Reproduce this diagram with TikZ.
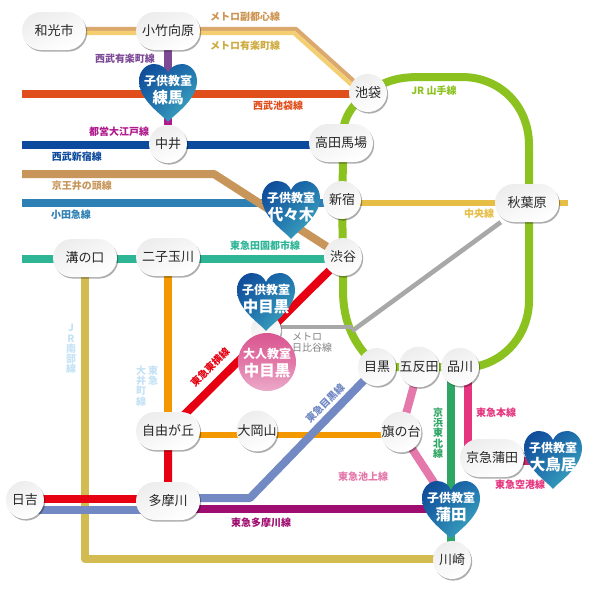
\documentclass[tikz,border=0pt]{standalone}
\usepackage{fontspec}
\setmainfont{Noto Sans CJK JP}
\usetikzlibrary{shadows,backgrounds,shadings}
\definecolor{cTan}{HTML}{DBA86E}\definecolor{cYel}{HTML}{F3CF72}
\definecolor{cPurp}{HTML}{7D4A96}\definecolor{cOrg}{HTML}{E04E1B}
\definecolor{cMag}{HTML}{B01A8C}\definecolor{cBlue}{HTML}{0B4A9C}
\definecolor{cKeio}{HTML}{C8965A}\definecolor{cOda}{HTML}{2E80B4}
\definecolor{cChuo}{HTML}{E6BE46}\definecolor{cDen}{HTML}{2DB596}
\definecolor{cNan}{HTML}{D2BC52}\definecolor{cOi}{HTML}{F39800}
\definecolor{cRed}{HTML}{E60012}\definecolor{cMeg}{HTML}{7289C4}
\definecolor{cTam}{HTML}{A00D70}\definecolor{cJY}{HTML}{8CC21F}
\definecolor{cHib}{HTML}{A8A8A8}\definecolor{cIke}{HTML}{E478AB}
\definecolor{cKT}{HTML}{2EA664}\definecolor{cKK}{HTML}{E5357F}
\definecolor{cSky}{HTML}{C5E3F5}
\definecolor{cPink}{HTML}{D9558F}\definecolor{cPinkM}{HTML}{E278A8}\definecolor{cPinkL}{HTML}{EBAACA}
\definecolor{hA}{HTML}{0D4596}\definecolor{hM}{HTML}{1F72AE}\definecolor{hC}{HTML}{48BAC6}
\newcommand{\heartbox}[4]{% x, top, small name, big name
  \begin{scope}[shift={(#1,#2)}]
  \shade[upper left=hA,upper right=hM,lower left=hM,lower right=hC]
   (0,58) .. controls (-4,52) and (-29,37) .. (-29,17)
   .. controls (-29,6) and (-21,0) .. (-14,0)
   .. controls (-7,0) and (-2,4) .. (0,9)
   .. controls (2,4) and (7,0) .. (14,0)
   .. controls (21,0) and (29,6) .. (29,17)
   .. controls (29,37) and (4,52) .. (0,58) -- cycle;
  \node[htext,font=\fontsize{12}{12}\bfseries\selectfont] (#3a) at (0,17) {子供教室};
  \node[htext,font=\fontsize{15.5}{15.5}\bfseries\selectfont] (#3b) at (0,34) {#4};
  \end{scope}}
\tikzset{
  st/.style={draw=none,left color=gray!14,right color=white,shading angle=25,
    font=\fontsize{13}{13}\selectfont,text=black!85,inner sep=0pt,
    drop shadow={shadow xshift=1.2pt,shadow yshift=-1.6pt,fill=black,opacity=.32}},
  stw/.style={st,rounded corners=19pt,minimum width=64pt,minimum height=38pt},
  stc/.style={st,circle,minimum size=38pt},
  lbl/.style={inner sep=0pt,font=\fontsize{10}{10}\bfseries\selectfont},
  vlbl/.style={lbl,align=center,font=\fontsize{10}{10.2}\bfseries\selectfont},
  htext/.style={inner sep=0pt,text=white},
  rail/.style={line width=8pt,line join=round},
  thin rail/.style={line width=4.2pt,line join=round},
}
\begin{document}
\begin{tikzpicture}[x=1pt,y=-1pt]
\useasboundingbox (0,0) rectangle (590,590);
% stations
\node[stw] (wako) at (54,31) {和光市};
\node[stw] (kotake) at (168,31) {小竹向原};
\node[stc] (ikebukuro) at (368,93) {池袋};
\node[stw] (takada) at (341,143) {高田馬場};
\node[stc] (nakai) at (168,144) {中井};
\node[stc] (shinjuku) at (342,200) {新宿};
\node[stw] (akiba) at (527,203) {秋葉原};
\node[stc] (shibuya) at (343,257) {渋谷};
\node[stw] (mizonokuchi) at (85,258) {溝の口};
\node[stw] (futako) at (168,257) {二子玉川};
\node[stc] (meguro) at (377,367) {目黒};
\node[stc] (gotanda) at (419,367) {五反田};
\node[stc] (shinagawa) at (460,367) {品川};
\node[stc] (hatanodai) at (401,432) {旗の台};
\node[stw] (jiyu) at (168,431) {自由が丘};
\node[stc] (ookayama) at (257,431) {大岡山};
\node[stw] (tamagawa) at (168,501) {多摩川};
\node[stc] (hiyoshi) at (25,500) {日吉};
\node[stw] (keikyu) at (492,458) {京急蒲田};
\node[stc] (kawasaki) at (452,560) {川崎};
\node[stc,minimum size=30pt] (nakameguro) at (266,330) {};
% free ends and bends
\coordinate (wL) at (22,94); \coordinate (sL) at (22,145);
\coordinate (kL) at (22,174); \coordinate (kB) at (214,174);
\coordinate (oL) at (22,203); \coordinate (cR) at (568,203);
\coordinate (dL) at (22,259);
\coordinate (fT) at (296,29); \coordinate (yT) at (294,33);
\coordinate (nB) at (85,559);
\coordinate (mB) at (250,498);
\coordinate (hB) at (352,327);
\coordinate (kgT) at (468,367); \coordinate (kgB) at (468,450);
\coordinate (apR) at (545,461);
\coordinate (koT) at (451,367); \coordinate (koB) at (451,560);
\coordinate (tgR) at (452,509);
\begin{pgfonlayer}{background}
\fill[white] (0,0) rectangle (590,590);
\draw[thin rail,cTan] (wako.center |- 0,29) -- (fT) -- ([shift={(-3,-2)}]ikebukuro.center);
\draw[thin rail,cYel] (wako.center |- 0,33) -- (yT) -- ([shift={(-5,2)}]ikebukuro.center);
\draw[rail,cPurp] (kotake) -- (nakai);
\draw[rail,cMag] (168,116) -- (nakai);
\draw[rail,cOrg] (wL) -- (wL -| ikebukuro);
\draw[rail,cBlue] (sL) -- (sL -| takada);
\draw[rail,cOda] (oL) -- (oL -| shinjuku);
\draw[rail,cChuo,line width=6pt] (shinjuku.center |- cR) -- (cR);
\draw[rail,cKeio] (kL) -- (kB) -- (shibuya);
\draw[rail,cDen] (dL) -- (dL -| shibuya);
\draw[rail,cNan,line join=round] (mizonokuchi) -- (nB) -- (nB -| kawasaki);
\draw[rail,cOi] (futako) -- (jiyu.center);
\draw[rail,cOi,line width=5.4pt] (jiyu.center |- 0,435) -- (hatanodai.center |- 0,435);
\draw[rail,cMeg] (hiyoshi.center |- 0,510) -- (tamagawa.center |- 0,510);
\draw[rail,cMeg] (tamagawa.center |- mB) -- (mB) -- (meguro);
\draw[rail,cRed] (shibuya) -- (jiyu.center) -- (tamagawa.center);
\draw[rail,cRed] (hiyoshi.center |- 0,499) -- (tamagawa.center |- 0,499);
\draw[rail,cTam] (tamagawa.center |- tgR) -- (tgR);
\draw[rail,cJY] (ikebukuro.center) .. controls (385,80) and (400,77) .. (420,77)
  -- (462,77) .. controls (500,77) and (529,106) .. (529,145) -- (529,300)
  .. controls (529,335) and (505,360) .. (478,366) -- (shinagawa.center)
  -- (meguro.center) .. controls (360,350) and (343,330) .. (343,290) -- (shibuya.center)
  -- (shinjuku.center) -- (343,165) -- (takada.center) -- (344,125)
  .. controls (347,113) and (355,102) .. (ikebukuro.center);
\draw[line width=4.6pt,cHib,line join=miter] (nakameguro.center |- hB) -- (hB);
\draw[line width=4.6pt,cHib] (352,331) -- (akiba);
\draw[rail,cIke] (gotanda) -- (hatanodai.center) -- (452,510);
\draw[rail,cKT] (koT) -- (koB);
\draw[rail,cKK] (kgT) -- (kgB);
\draw[rail,cKK!85!black] (keikyu) ++(20,3) -- (apR);
\end{pgfonlayer}
% hearts
\heartbox{168}{64}{nerima}{練馬}
\heartbox{291}{181}{yoyogi}{代々木}
\heartbox{266}{273}{nakam}{中目黒}
\heartbox{451}{481}{kamata}{蒲田}
\heartbox{553}{431}{otorii}{大鳥居}
% adult circle
\node[circle,minimum size=58pt,inner sep=0pt,top color=cPink,bottom color=cPinkL,middle color=cPinkM] (adult) at (267,362) {};
\node[htext,font=\fontsize{12}{12}\bfseries\selectfont] (adulta) at (267,354) {大人教室};
\node[htext,font=\fontsize{15.5}{15.5}\bfseries\selectfont] (adultb) at (267,371) {中目黒};
% labels
\node[lbl,text=cKeio!90!orange] (l1) at (245,17) {メトロ副都心線};
\node[lbl,text=cChuo!90!black] (l2) at (245,46) {メトロ有楽町線};
\node[lbl,text=cPurp] (l3) at (125,59) {西武有楽町線};
\node[lbl,text=cOrg] (l4) at (278,106) {西武池袋線};
\node[lbl,text=cMag] (l5) at (119,132) {都営大江戸線};
\node[lbl,text=cBlue] (l6) at (77,157) {西武新宿線};
\node[lbl,text=cKeio] (l7) at (82,186) {京王井の頭線};
\node[lbl,text=cOda] (l8) at (71,215) {小田急線};
\node[lbl,text=cDen] (l9) at (265,246) {東急田園都市線};
\node[lbl,text=cChuo] (l10) at (479,214) {中央線};
\node[lbl,text=cJY] (l11) at (434,91) {JR 山手線};
\node[vlbl,text=cSky] (l12) at (71,349) {J\\R\\南\\部\\線};
\node[vlbl,text=cSky] (l13) at (153,376) {東\\急};
\node[vlbl,text=cSky] (l14) at (141,386) {大\\井\\町\\線};
\node[lbl,text=cRed,rotate=45] (l15) at (210,367) {東急東横線};
\node[lbl,text=cMeg,rotate=45] (l16) at (325,403) {東急目黒線};
\node[lbl,text=gray,font=\fontsize{10}{10}\selectfont] (l17) at (307,337) {メトロ};
\node[lbl,text=gray,font=\fontsize{10}{10}\selectfont] (l18) at (312,348) {日比谷線};
\node[lbl,text=cKK] (l19) at (496,413) {東急本線};
\node[vlbl,text=cKT] (l20) at (438,433) {京\\浜\\東\\北\\線};
\node[lbl,text=cIke] (l21) at (363,477) {東急池上線};
\node[lbl,text=cKK] (l22) at (520,485) {東急空港線};
\node[lbl,text=cTam] (l23) at (261,523) {東急多摩川線};
\end{tikzpicture}
\end{document}
